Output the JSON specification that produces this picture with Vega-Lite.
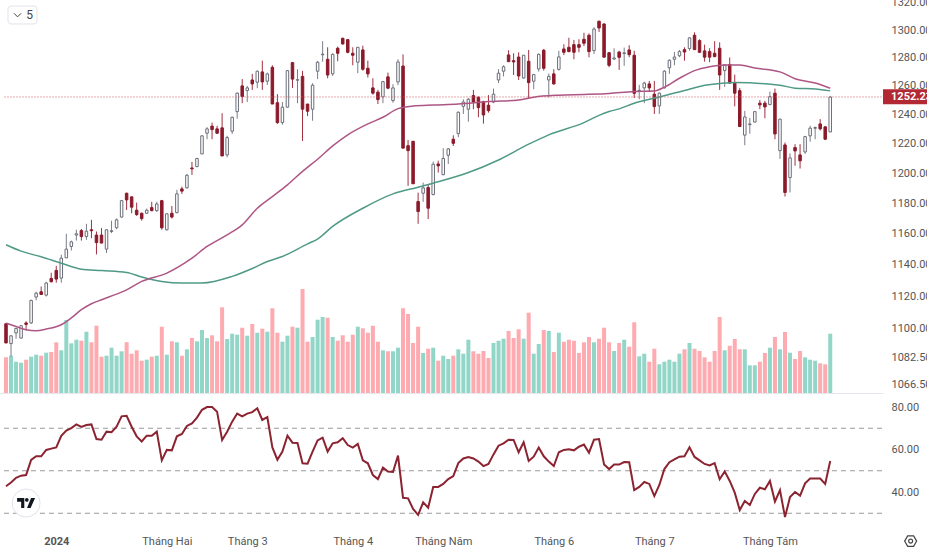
{"$schema":"https://vega.github.io/schema/vega-lite/v6.json","padding":{"left":0,"top":-4,"right":0,"bottom":0},"background":"#ffffff","spacing":0,"config":{"view":{"stroke":null},"font":"Roboto"},
"datasets":{
"bars":[
{"i":0,"o":1103.1,"h":1103.1,"l":1091.3,"c":1091.3,"v":357,"r":42.7},
{"i":1,"o":1090.9,"h":1095.7,"l":1083,"c":1095.7,"v":373,"r":44.5},
{"i":2,"o":1097.4,"h":1100.6,"l":1093.9,"c":1100.2,"v":313,"r":46.7},
{"i":3,"o":1094.3,"h":1102.2,"l":1094,"c":1101.9,"v":303,"r":47.7},
{"i":4,"o":1103.6,"h":1104.6,"l":1099,"c":1102.7,"v":333,"r":48},
{"i":5,"o":1103.6,"h":1118,"l":1103,"c":1117.6,"v":363,"r":55.1},
{"i":6,"o":1119.7,"h":1123,"l":1117.6,"c":1122.1,"v":383,"r":56.8},
{"i":7,"o":1123,"h":1126.3,"l":1121.3,"c":1121.3,"v":373,"r":56.8},
{"i":8,"o":1120.9,"h":1129.3,"l":1120,"c":1128.5,"v":403,"r":59.8},
{"i":9,"o":1131.4,"h":1135,"l":1128.9,"c":1129.3,"v":410,"r":60.4},
{"i":10,"o":1136.5,"h":1139.4,"l":1128.7,"c":1131,"v":507,"r":61},
{"i":11,"o":1131.6,"h":1146.5,"l":1128.7,"c":1144.3,"v":427,"r":66.4},
{"i":12,"o":1144.5,"h":1160,"l":1144.5,"c":1150.1,"v":730,"r":68.9},
{"i":13,"o":1151.8,"h":1155.6,"l":1149.2,"c":1154.8,"v":497,"r":70.1},
{"i":14,"o":1159.2,"h":1162.6,"l":1155.6,"c":1160,"v":533,"r":71.8},
{"i":15,"o":1162.1,"h":1163.2,"l":1155.6,"c":1158.2,"v":523,"r":70.6},
{"i":16,"o":1158.2,"h":1166.5,"l":1156.1,"c":1161.7,"v":613,"r":71.5},
{"i":17,"o":1162.6,"h":1169.1,"l":1157.2,"c":1162,"v":507,"r":71.8},
{"i":18,"o":1159.2,"h":1161.5,"l":1146.7,"c":1154.3,"v":673,"r":64.9},
{"i":19,"o":1159.2,"h":1163.7,"l":1154,"c":1154,"v":363,"r":64.6},
{"i":20,"o":1150.1,"h":1163,"l":1147.6,"c":1162.6,"v":373,"r":68.4},
{"i":21,"o":1161.5,"h":1168.5,"l":1160.5,"c":1162,"v":453,"r":68.1},
{"i":22,"o":1163.9,"h":1170,"l":1163,"c":1169.1,"v":373,"r":70.7},
{"i":23,"o":1170.9,"h":1182,"l":1170.5,"c":1181.7,"v":417,"r":75.6},
{"i":24,"o":1186.6,"h":1187,"l":1175.6,"c":1182.2,"v":507,"r":75.9},
{"i":25,"o":1184.2,"h":1184.4,"l":1173.4,"c":1177.4,"v":393,"r":70.7},
{"i":26,"o":1175.4,"h":1180.4,"l":1171.7,"c":1172.5,"v":427,"r":66.2},
{"i":27,"o":1173.4,"h":1173.8,"l":1168.6,"c":1169.9,"v":323,"r":63.8},
{"i":28,"o":1173.4,"h":1176.5,"l":1173.4,"c":1175.4,"v":333,"r":66.5},
{"i":29,"o":1177.1,"h":1180.9,"l":1174.7,"c":1175.1,"v":363,"r":66.5},
{"i":30,"o":1175.1,"h":1180.9,"l":1174.3,"c":1179.5,"v":373,"r":68.4},
{"i":31,"o":1181.7,"h":1182.2,"l":1162.6,"c":1163.9,"v":663,"r":54.9},
{"i":32,"o":1162.6,"h":1173.4,"l":1162.1,"c":1173,"v":383,"r":59.8},
{"i":33,"o":1173.4,"h":1178.2,"l":1170,"c":1170.9,"v":517,"r":59.6},
{"i":34,"o":1173.8,"h":1188.9,"l":1173.4,"c":1186.2,"v":507,"r":66.2},
{"i":35,"o":1189.5,"h":1191,"l":1186.2,"c":1188,"v":373,"r":67.3},
{"i":36,"o":1190.2,"h":1199.5,"l":1189.7,"c":1198.6,"v":437,"r":71.1},
{"i":37,"o":1203.5,"h":1207.6,"l":1198.8,"c":1202.9,"v":550,"r":72.3},
{"i":38,"o":1204.4,"h":1210.3,"l":1204,"c":1209.9,"v":517,"r":75},
{"i":39,"o":1213,"h":1225.7,"l":1212.8,"c":1225.3,"v":630,"r":78.7},
{"i":40,"o":1227.1,"h":1231.3,"l":1223,"c":1230.1,"v":550,"r":80},
{"i":41,"o":1232,"h":1234.4,"l":1223,"c":1229.6,"v":577,"r":80},
{"i":42,"o":1230.1,"h":1232.2,"l":1226.6,"c":1227.1,"v":517,"r":77.8},
{"i":43,"o":1230.8,"h":1240.9,"l":1211.6,"c":1211.6,"v":857,"r":64.5},
{"i":44,"o":1212.3,"h":1225.3,"l":1210.7,"c":1224.1,"v":540,"r":68.4},
{"i":45,"o":1228.5,"h":1238.5,"l":1226.6,"c":1238.1,"v":593,"r":73.1},
{"i":46,"o":1242,"h":1255.3,"l":1237.1,"c":1254.9,"v":583,"r":76.9},
{"i":47,"o":1260,"h":1264.8,"l":1247.9,"c":1252.5,"v":653,"r":75.6},
{"i":48,"o":1256.7,"h":1260,"l":1248.7,"c":1258.6,"v":573,"r":76.9},
{"i":49,"o":1264.2,"h":1268.5,"l":1257.2,"c":1261.4,"v":690,"r":77.6},
{"i":50,"o":1262.6,"h":1270.8,"l":1258.4,"c":1270.4,"v":603,"r":79.4},
{"i":51,"o":1269.9,"h":1277.9,"l":1257.2,"c":1262.8,"v":643,"r":73.9},
{"i":52,"o":1263.3,"h":1269.4,"l":1260.7,"c":1268.5,"v":613,"r":75.3},
{"i":53,"o":1273.2,"h":1274.6,"l":1247.3,"c":1247.3,"v":847,"r":61},
{"i":54,"o":1248.2,"h":1254.2,"l":1233.5,"c":1234.4,"v":603,"r":55.2},
{"i":55,"o":1234.4,"h":1248.7,"l":1233,"c":1245.1,"v":513,"r":59},
{"i":56,"o":1245.1,"h":1271.3,"l":1244.8,"c":1270.8,"v":573,"r":66.5},
{"i":57,"o":1276.5,"h":1277,"l":1258.6,"c":1264.8,"v":663,"r":63.2},
{"i":58,"o":1264,"h":1271.8,"l":1247.9,"c":1264.4,"v":653,"r":63.1},
{"i":59,"o":1266.7,"h":1270.6,"l":1221.8,"c":1243.7,"v":1040,"r":53.5},
{"i":60,"o":1247.3,"h":1247.3,"l":1238.9,"c":1242.3,"v":513,"r":53.3},
{"i":61,"o":1243.7,"h":1261.9,"l":1235.7,"c":1260.5,"v":560,"r":59},
{"i":62,"o":1270.4,"h":1277.7,"l":1264.8,"c":1276.8,"v":733,"r":64.3},
{"i":63,"o":1282.1,"h":1291.9,"l":1277.2,"c":1282.6,"v":760,"r":65.6},
{"i":64,"o":1278.9,"h":1287.5,"l":1265.4,"c":1267.7,"v":753,"r":59},
{"i":65,"o":1268.5,"h":1283.2,"l":1267,"c":1282.4,"v":560,"r":62.9},
{"i":66,"o":1286.8,"h":1288,"l":1277.5,"c":1283.2,"v":523,"r":63.4},
{"i":67,"o":1294,"h":1294.4,"l":1289.4,"c":1289.9,"v":577,"r":65.3},
{"i":68,"o":1293,"h":1293.3,"l":1283.2,"c":1283.9,"v":513,"r":62.1},
{"i":69,"o":1283.2,"h":1287.5,"l":1274.6,"c":1281.8,"v":583,"r":60.9},
{"i":70,"o":1276.8,"h":1287.7,"l":1269,"c":1287.5,"v":663,"r":62.6},
{"i":71,"o":1285.6,"h":1288.7,"l":1270.8,"c":1271.8,"v":647,"r":54.9},
{"i":72,"o":1272.5,"h":1277.9,"l":1265.9,"c":1268.5,"v":603,"r":53.5},
{"i":73,"o":1258.6,"h":1265.4,"l":1253.9,"c":1254.9,"v":673,"r":48},
{"i":74,"o":1255.6,"h":1257.2,"l":1247.3,"c":1250.4,"v":513,"r":46.1},
{"i":75,"o":1252.3,"h":1263.5,"l":1247.9,"c":1263,"v":427,"r":51.5},
{"i":76,"o":1266.4,"h":1269.4,"l":1257.7,"c":1258.4,"v":417,"r":49.6},
{"i":77,"o":1249.7,"h":1261.2,"l":1248.2,"c":1258.6,"v":417,"r":49.4},
{"i":78,"o":1262.8,"h":1278.9,"l":1260.5,"c":1277,"v":453,"r":57.1},
{"i":79,"o":1274.1,"h":1282.4,"l":1216.9,"c":1216.9,"v":847,"r":37.3},
{"i":80,"o":1218.6,"h":1222.5,"l":1191.5,"c":1215.2,"v":790,"r":37},
{"i":81,"o":1221.6,"h":1221.6,"l":1192.9,"c":1192.9,"v":500,"r":32},
{"i":82,"o":1181.1,"h":1187,"l":1166.5,"c":1174.5,"v":663,"r":29.2},
{"i":83,"o":1186.6,"h":1193.7,"l":1180.9,"c":1190.2,"v":400,"r":35.1},
{"i":84,"o":1190.4,"h":1192.4,"l":1169.6,"c":1176.7,"v":443,"r":32.6},
{"i":85,"o":1185.7,"h":1207.8,"l":1185.3,"c":1206,"v":453,"r":42.4},
{"i":86,"o":1206.2,"h":1208.4,"l":1200.4,"c":1204.9,"v":323,"r":42.4},
{"i":87,"o":1199,"h":1216.9,"l":1198.6,"c":1209.9,"v":373,"r":43.8},
{"i":88,"o":1212.1,"h":1217,"l":1206.2,"c":1216.4,"v":340,"r":46.1},
{"i":89,"o":1223,"h":1225.7,"l":1218.4,"c":1220.2,"v":373,"r":47.5},
{"i":90,"o":1226.8,"h":1242,"l":1224.4,"c":1241.6,"v":437,"r":53.6},
{"i":91,"o":1245.7,"h":1250.6,"l":1240.4,"c":1248.7,"v":393,"r":55.8},
{"i":92,"o":1243.7,"h":1251.5,"l":1235,"c":1250.6,"v":533,"r":56.5},
{"i":93,"o":1253.2,"h":1257.2,"l":1243.7,"c":1248.7,"v":417,"r":55.8},
{"i":94,"o":1252.1,"h":1252.5,"l":1238.1,"c":1244.8,"v":393,"r":54.3},
{"i":95,"o":1249,"h":1249.6,"l":1233.7,"c":1239.7,"v":420,"r":52.2},
{"i":96,"o":1246.5,"h":1253.5,"l":1241.3,"c":1242.7,"v":350,"r":53.2},
{"i":97,"o":1248.7,"h":1258.1,"l":1247.9,"c":1254.2,"v":500,"r":57.7},
{"i":98,"o":1264.2,"h":1271.8,"l":1262,"c":1269,"v":523,"r":61.8},
{"i":99,"o":1270.4,"h":1274.6,"l":1266.7,"c":1273.6,"v":543,"r":62.9},
{"i":100,"o":1282,"h":1285.4,"l":1277,"c":1277.2,"v":620,"r":64.6},
{"i":101,"o":1277.9,"h":1283.2,"l":1267.7,"c":1277,"v":550,"r":64.5},
{"i":102,"o":1280.5,"h":1283.9,"l":1264.2,"c":1267,"v":637,"r":58.7},
{"i":103,"o":1265.6,"h":1282,"l":1265,"c":1281.8,"v":543,"r":63.4},
{"i":104,"o":1277.5,"h":1285.6,"l":1251,"c":1262.3,"v":803,"r":54.6},
{"i":105,"o":1263.3,"h":1268.5,"l":1257.7,"c":1268,"v":393,"r":56.6},
{"i":106,"o":1272,"h":1283.2,"l":1270.1,"c":1282.4,"v":490,"r":60.9},
{"i":107,"o":1285.4,"h":1286.3,"l":1270.8,"c":1272.5,"v":630,"r":56.8},
{"i":108,"o":1264.2,"h":1268.8,"l":1251.9,"c":1266.7,"v":620,"r":54.3},
{"i":109,"o":1268.5,"h":1271.8,"l":1260.9,"c":1261.4,"v":410,"r":52.2},
{"i":110,"o":1271.7,"h":1285,"l":1270.8,"c":1280.6,"v":603,"r":58.7},
{"i":111,"o":1286.3,"h":1289.7,"l":1281.9,"c":1283.9,"v":513,"r":59.8},
{"i":112,"o":1287.5,"h":1294.4,"l":1283.9,"c":1284.4,"v":533,"r":60.1},
{"i":113,"o":1289.4,"h":1292.8,"l":1278.9,"c":1283.9,"v":523,"r":59.6},
{"i":114,"o":1289.4,"h":1293.3,"l":1283.9,"c":1287.5,"v":400,"r":61.3},
{"i":115,"o":1293.3,"h":1298,"l":1288.4,"c":1290.4,"v":507,"r":62.3},
{"i":116,"o":1296.2,"h":1297.6,"l":1280.3,"c":1284.4,"v":560,"r":58.5},
{"i":117,"o":1285.1,"h":1302,"l":1282.6,"c":1300.7,"v":507,"r":64.6},
{"i":118,"o":1306.4,"h":1306.8,"l":1298.6,"c":1301.5,"v":543,"r":64.9},
{"i":119,"o":1304.4,"h":1304.9,"l":1280.4,"c":1280.4,"v":653,"r":53},
{"i":120,"o":1283.6,"h":1284.1,"l":1273.2,"c":1274.6,"v":507,"r":50.8},
{"i":121,"o":1279.1,"h":1286.8,"l":1278.4,"c":1279.8,"v":420,"r":52.9},
{"i":122,"o":1284.1,"h":1285,"l":1271.3,"c":1280.3,"v":500,"r":52.9},
{"i":123,"o":1283,"h":1287.3,"l":1274.2,"c":1283.5,"v":533,"r":54.1},
{"i":124,"o":1285.6,"h":1289,"l":1280.4,"c":1282.2,"v":463,"r":54},
{"i":125,"o":1281.8,"h":1285,"l":1251.5,"c":1254.8,"v":707,"r":40.9},
{"i":126,"o":1256.5,"h":1260.7,"l":1250.6,"c":1256.9,"v":367,"r":42.4},
{"i":127,"o":1258.6,"h":1263,"l":1247.9,"c":1262,"v":393,"r":44.7},
{"i":128,"o":1261.4,"h":1263.5,"l":1255.8,"c":1258.6,"v":313,"r":43.8},
{"i":129,"o":1254.2,"h":1263.5,"l":1240.4,"c":1245.5,"v":443,"r":38.1},
{"i":130,"o":1246,"h":1255.3,"l":1240.4,"c":1254.9,"v":287,"r":43.3},
{"i":131,"o":1258.6,"h":1271.1,"l":1258.1,"c":1270.4,"v":313,"r":50.8},
{"i":132,"o":1272.8,"h":1278.9,"l":1268.5,"c":1278.2,"v":333,"r":54},
{"i":133,"o":1278.9,"h":1284.1,"l":1274.6,"c":1280.5,"v":313,"r":55.4},
{"i":134,"o":1281.4,"h":1285.6,"l":1280.4,"c":1284.4,"v":393,"r":56.6},
{"i":135,"o":1285.8,"h":1287.5,"l":1277.9,"c":1284.1,"v":437,"r":56.8},
{"i":136,"o":1286.6,"h":1294.7,"l":1285.1,"c":1294.3,"v":500,"r":61},
{"i":137,"o":1296.2,"h":1298.3,"l":1285.6,"c":1285.8,"v":443,"r":56.5},
{"i":138,"o":1292.3,"h":1293.3,"l":1283.6,"c":1283.9,"v":420,"r":54.9},
{"i":139,"o":1284.9,"h":1289.4,"l":1277.2,"c":1280.4,"v":357,"r":53.2},
{"i":140,"o":1284.4,"h":1286.8,"l":1276.8,"c":1280.4,"v":313,"r":52.5},
{"i":141,"o":1283.2,"h":1291.9,"l":1280.4,"c":1280.8,"v":420,"r":53.6},
{"i":142,"o":1286.8,"h":1291.1,"l":1257.2,"c":1267.7,"v":760,"r":46},
{"i":143,"o":1270.8,"h":1275.4,"l":1259.3,"c":1274.9,"v":427,"r":49.7},
{"i":144,"o":1275.2,"h":1280.2,"l":1261.4,"c":1262,"v":473,"r":45.2},
{"i":145,"o":1262,"h":1268,"l":1245.7,"c":1254.9,"v":540,"r":39.7},
{"i":146,"o":1256.7,"h":1258.6,"l":1231.5,"c":1231.7,"v":437,"r":31.5},
{"i":147,"o":1225.8,"h":1242.5,"l":1218.9,"c":1238.3,"v":437,"r":35.8},
{"i":148,"o":1233,"h":1237.6,"l":1226.8,"c":1233.5,"v":277,"r":33.9},
{"i":149,"o":1234.8,"h":1242.5,"l":1234.4,"c":1242,"v":277,"r":39.1},
{"i":150,"o":1247.9,"h":1250.1,"l":1243.7,"c":1246.7,"v":313,"r":42},
{"i":151,"o":1247.9,"h":1249.5,"l":1237.4,"c":1245.3,"v":400,"r":41.3},
{"i":152,"o":1246.9,"h":1256,"l":1246.5,"c":1252.5,"v":453,"r":45.2},
{"i":153,"o":1254.9,"h":1258.1,"l":1223,"c":1226.6,"v":560,"r":35.5},
{"i":154,"o":1215.2,"h":1237.1,"l":1209.6,"c":1236.8,"v":437,"r":40.9},
{"i":155,"o":1219.1,"h":1220.7,"l":1184.4,"c":1187.1,"v":610,"r":28.2},
{"i":156,"o":1197,"h":1213.4,"l":1187.1,"c":1210.3,"v":403,"r":37.6},
{"i":157,"o":1217.3,"h":1219.6,"l":1205,"c":1215,"v":340,"r":40},
{"i":158,"o":1212.3,"h":1219.6,"l":1203.1,"c":1208.3,"v":420,"r":38.3},
{"i":159,"o":1214.3,"h":1225.3,"l":1213,"c":1224.8,"v":357,"r":44.1},
{"i":160,"o":1225.3,"h":1232.2,"l":1221.3,"c":1230.6,"v":333,"r":46.3},
{"i":161,"o":1230.5,"h":1231.7,"l":1223,"c":1231,"v":323,"r":46.3},
{"i":162,"o":1233.5,"h":1236.8,"l":1229,"c":1230.1,"v":297,"r":46.3},
{"i":163,"o":1231.5,"h":1231.7,"l":1222.5,"c":1223,"v":287,"r":43.8},
{"i":164,"o":1228,"h":1252.7,"l":1227.8,"c":1252.23,"v":593,"r":54.6}
],
"ma":[
{"i":0,"s":"slow","p":1152.9},{"i":3,"s":"slow","p":1148.8},{"i":7,"s":"slow","p":1145.2},{"i":11,"s":"slow","p":1141.1},{"i":15,"s":"slow","p":1137.3},{"i":19,"s":"slow","p":1136.4},{"i":24,"s":"slow","p":1135.2},{"i":27,"s":"slow","p":1132.3},{"i":31,"s":"slow","p":1129.5},{"i":35,"s":"slow","p":1128.5},{"i":39,"s":"slow","p":1128.5},{"i":45,"s":"slow","p":1132.7},{"i":49,"s":"slow","p":1137.7},{"i":52,"s":"slow","p":1142.2},{"i":55,"s":"slow","p":1145.4},{"i":60,"s":"slow","p":1153.5},{"i":62,"s":"slow","p":1156.6},{"i":65,"s":"slow","p":1164.8},{"i":71,"s":"slow","p":1176.7},{"i":77,"s":"slow","p":1186.2},{"i":82,"s":"slow","p":1190.6},{"i":85,"s":"slow","p":1193.3},{"i":92,"s":"slow","p":1200.4},{"i":98,"s":"slow","p":1208.9},{"i":104,"s":"slow","p":1219.6},{"i":108,"s":"slow","p":1226},{"i":115,"s":"slow","p":1234.4},{"i":118,"s":"slow","p":1239.4},{"i":120,"s":"slow","p":1242.1},{"i":122,"s":"slow","p":1243.9},{"i":125,"s":"slow","p":1247.9},{"i":130,"s":"slow","p":1252.2},{"i":135,"s":"slow","p":1256.7},{"i":138,"s":"slow","p":1259.6},{"i":143,"s":"slow","p":1262},{"i":145,"s":"slow","p":1262.4},{"i":154,"s":"slow","p":1260.5},{"i":157,"s":"slow","p":1258.4},{"i":161,"s":"slow","p":1257.9},{"i":164,"s":"slow","p":1256.5},
{"i":0,"s":"fast","p":1103.5},{"i":2,"s":"fast","p":1101.4},{"i":4,"s":"fast","p":1099.4},{"i":6,"s":"fast","p":1098.8},{"i":8,"s":"fast","p":1099.8},{"i":11,"s":"fast","p":1102.5},{"i":13,"s":"fast","p":1106.7},{"i":15,"s":"fast","p":1111.8},{"i":17,"s":"fast","p":1115.5},{"i":19,"s":"fast","p":1118},{"i":22,"s":"fast","p":1121.5},{"i":24,"s":"fast","p":1124.2},{"i":27,"s":"fast","p":1129.5},{"i":32,"s":"fast","p":1134.8},{"i":37,"s":"fast","p":1144.3},{"i":40,"s":"fast","p":1151.8},{"i":44,"s":"fast","p":1159.3},{"i":47,"s":"fast","p":1165.8},{"i":50,"s":"fast","p":1176.7},{"i":53,"s":"fast","p":1184.4},{"i":56,"s":"fast","p":1192.2},{"i":59,"s":"fast","p":1201.2},{"i":62,"s":"fast","p":1209.4},{"i":65,"s":"fast","p":1218.4},{"i":68,"s":"fast","p":1226},{"i":72,"s":"fast","p":1233.5},{"i":75,"s":"fast","p":1238.1},{"i":78,"s":"fast","p":1244.1},{"i":81,"s":"fast","p":1245.9},{"i":85,"s":"fast","p":1246.6},{"i":90,"s":"fast","p":1247.3},{"i":96,"s":"fast","p":1249},{"i":102,"s":"fast","p":1250.1},{"i":105,"s":"fast","p":1252.1},{"i":110,"s":"fast","p":1253.5},{"i":115,"s":"fast","p":1254},{"i":120,"s":"fast","p":1254.7},{"i":125,"s":"fast","p":1256.1},{"i":129,"s":"fast","p":1256.4},{"i":131,"s":"fast","p":1259.1},{"i":134,"s":"fast","p":1265.4},{"i":137,"s":"fast","p":1270.8},{"i":140,"s":"fast","p":1273.6},{"i":143,"s":"fast","p":1274.8},{"i":146,"s":"fast","p":1274.8},{"i":149,"s":"fast","p":1272.7},{"i":154,"s":"fast","p":1269.9},{"i":157,"s":"fast","p":1265.1},{"i":161,"s":"fast","p":1262},{"i":164,"s":"fast","p":1258.4}
],
"last":[{"i0":-0.3,"i1":174.5,"ta":174.5,"tb":183.3,"tx":176.1,"p":1252.23,"pa":1257.7,"pb":1247.2,"lab":"1252.23"}],
"chip":[{"a":0.4,"b":6.17,"top":1317.5,"bot":1304.4,"cx":2.3,"nx":4.7,"p":1310.9,"lab":"5"}],
"levels":[{"lvl":70,"a":-0.4,"b":174.5},{"lvl":50,"a":-0.4,"b":174.5},{"lvl":30,"a":-0.4,"b":174.5}],
"logo":[{"i":4,"r":34.8}],
"gear":[{"i":180,"r":16.9}]
},
"vconcat":[
{"width":883,"height":393,"layer":[
{"data":{"name":"bars"},"mark":{"type":"bar","size":4,"orient":"vertical"},"encoding":{
"x":{"field":"i","type":"quantitative","scale":{"domain":[-1.194,174.5],"nice":false,"zero":false,"padding":0},"axis":{"labels":false,"ticks":false,"grid":false,"title":null,"domain":true,"domainColor":"#e6e7ec"}},
"y":{"field":"v","type":"quantitative","scale":{"domain":[0,3930],"nice":false},"axis":null},
"color":{"condition":{"test":"datum.c>=datum.o","value":"#92d6c8"},"value":"#fdaab0"}}},
{"layer":[
{"data":{"name":"bars"},"mark":{"type":"rule","strokeWidth":1},"encoding":{
"x":{"field":"i","type":"quantitative"},
"y":{"field":"h","type":"quantitative","scale":{"type":"log","domain":[1061.2,1322],"nice":false},"axis":{"orient":"right","values":[1320,1300,1280,1260,1240,1220,1200,1180,1160,1140,1120,1100,1082.5,1066.5],"format":".2f","title":null,"grid":false,"ticks":false,"domain":false,"labelPadding":8,"labelFontSize":11,"labelColor":"#555555","labelFont":"Roboto","labelOverlap":false}},
"y2":{"field":"l"},
"color":{"condition":{"test":"datum.c>=datum.o","value":"#7a7d87"},"value":"#a03040"}}},
{"data":{"name":"bars"},"mark":{"type":"bar","size":2.5,"strokeWidth":1,"orient":"vertical"},"encoding":{
"x":{"field":"i","type":"quantitative"},
"y":{"field":"o","type":"quantitative"},
"y2":{"field":"c"},
"fill":{"condition":{"test":"datum.c>=datum.o","value":"#ffffff"},"value":"#8b1a2b"},
"stroke":{"condition":{"test":"datum.c>=datum.o","value":"#6a6d78"},"value":"#8b1a2b"}}},
{"data":{"name":"ma"},"mark":{"type":"line","strokeWidth":1.5,"interpolate":"monotone"},"encoding":{
"x":{"field":"i","type":"quantitative"},
"y":{"field":"p","type":"quantitative"},
"color":{"field":"s","type":"nominal","scale":{"domain":["slow","fast"],"range":["#4f9a86","#ad5584"]},"legend":null}}},
{"data":{"name":"last"},"mark":{"type":"rule","strokeWidth":1,"strokeDash":[1,2],"color":"#d0505a"},"encoding":{
"x":{"field":"i0","type":"quantitative"},"x2":{"field":"i1"},"y":{"field":"p","type":"quantitative"}}},
{"data":{"name":"last"},"mark":{"type":"rect","color":"#b22833"},"encoding":{
"x":{"field":"ta","type":"quantitative"},"x2":{"field":"tb"},"y":{"field":"pa","type":"quantitative"},"y2":{"field":"pb"}}},
{"data":{"name":"last"},"mark":{"type":"text","align":"left","baseline":"middle","color":"#ffffff","fontSize":11,"fontWeight":"bold","font":"Roboto"},"encoding":{
"x":{"field":"tx","type":"quantitative"},"y":{"field":"p","type":"quantitative"},"text":{"field":"lab"}}},
{"data":{"name":"chip"},"mark":{"type":"rect","fill":"#ffffff","stroke":"#e0e3eb","strokeWidth":1,"cornerRadius":3},"encoding":{
"x":{"field":"a","type":"quantitative"},"x2":{"field":"b"},"y":{"field":"top","type":"quantitative"},"y2":{"field":"bot"}}},
{"data":{"name":"chip"},"mark":{"type":"text","align":"center","baseline":"middle","color":"#444444","fontSize":12,"font":"Roboto"},"encoding":{
"x":{"field":"nx","type":"quantitative"},"y":{"field":"p","type":"quantitative"},"text":{"field":"lab"}}},
{"data":{"name":"chip"},"mark":{"type":"point","shape":"M-1,-0.5L0,0.5L1,-0.5","filled":false,"stroke":"#444444","strokeWidth":1,"size":50,"opacity":1},"encoding":{
"x":{"field":"cx","type":"quantitative"},"y":{"field":"p","type":"quantitative"}}}
]}
],"resolve":{"scale":{"y":"independent"}}},
{"width":883,"height":135,"layer":[
{"data":{"name":"levels"},"mark":{"type":"rule","strokeWidth":1,"strokeDash":[5,4],"color":"#9a9aa0"},"encoding":{
"x":{"field":"a","type":"quantitative","scale":{"domain":[-1.194,174.5],"nice":false,"zero":false,"padding":0},"axis":{"values":[10,32,48,69,87,109,129,152],"labelExpr":"{'10':'2024','32':'Tháng Hai','48':'Tháng 3','69':'Tháng 4','87':'Tháng Năm','109':'Tháng 6','129':'Tháng 7','152':'Tháng Tám'}[datum.value]","title":null,"grid":false,"ticks":false,"domain":false,"labelPadding":7,"labelFontSize":11,"labelColor":"#555555","labelFont":"Roboto","labelOverlap":false,"labelFontWeight":{"expr":"datum.value==10?'bold':'normal'"}}},
"x2":{"field":"b"},
"y":{"field":"lvl","type":"quantitative","scale":{"domain":[23.06,86.59],"nice":false,"zero":false},"axis":{"orient":"right","values":[40,60,80],"format":".2f","title":null,"grid":false,"ticks":false,"domain":false,"labelPadding":8,"labelFontSize":11,"labelColor":"#555555","labelFont":"Roboto"}}}},
{"data":{"name":"bars"},"mark":{"type":"line","strokeWidth":2,"color":"#8b2330"},"encoding":{
"x":{"field":"i","type":"quantitative"},"y":{"field":"r","type":"quantitative"}}},
{"data":{"name":"logo"},"mark":{"type":"point","shape":"circle","filled":true,"fill":"#ffffff","stroke":"#e0e3eb","strokeWidth":1,"size":784,"opacity":1},"encoding":{
"x":{"field":"i","type":"quantitative"},"y":{"field":"r","type":"quantitative"}}},
{"data":{"name":"logo"},"mark":{"type":"point","shape":"M-1,-0.55L-0.2,-0.55L-0.2,0.55L-0.55,0.55L-0.55,-0.15L-1,-0.15ZM0.55,-0.55L1,-0.55L0.5,0.55L0.1,0.55ZM0.08,-0.55A0.2,0.2 0 1 1 0.08,-0.15A0.2,0.2 0 1 1 0.08,-0.55Z","filled":true,"fill":"#131722","strokeWidth":0,"size":324,"opacity":1},"encoding":{
"x":{"field":"i","type":"quantitative"},"y":{"field":"r","type":"quantitative"}}},
{"data":{"name":"gear"},"mark":{"type":"point","shape":"M-1,0L-0.5,-0.87L0.5,-0.87L1,0L0.5,0.87L-0.5,0.87Z","filled":false,"stroke":"#444444","strokeWidth":1.2,"size":144,"opacity":1},"encoding":{
"x":{"field":"i","type":"quantitative"},"y":{"field":"r","type":"quantitative"}}},
{"data":{"name":"gear"},"mark":{"type":"point","shape":"circle","filled":false,"stroke":"#444444","strokeWidth":1.2,"size":16,"opacity":1},"encoding":{
"x":{"field":"i","type":"quantitative"},"y":{"field":"r","type":"quantitative"}}}
]}
]}
